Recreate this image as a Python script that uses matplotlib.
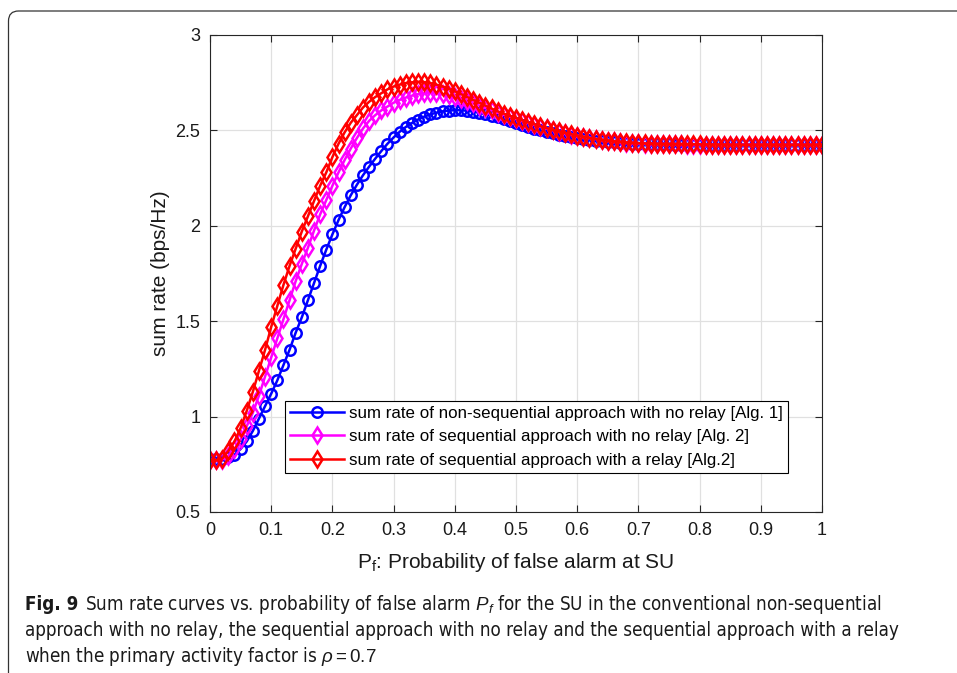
import numpy as np
import matplotlib.pyplot as plt
from matplotlib import font_manager
from matplotlib.font_manager import FontProperties
from matplotlib.patches import FancyBboxPatch
from matplotlib.transforms import IdentityTransform

# probability of false alarm, 0:0.01:1
pf = np.linspace(0, 1, 101)

# sum rate, non-sequential, no relay [Alg. 1]
rate_nonseq = [
    0.78, 0.78, 0.78, 0.79, 0.80, 0.83, 0.87, 0.925, 0.99, 1.055,
    1.12, 1.19, 1.27, 1.35, 1.44, 1.52, 1.61, 1.70, 1.79, 1.875,
    1.955, 2.03, 2.098, 2.16, 2.215, 2.265, 2.31, 2.352, 2.392, 2.43,
    2.463, 2.493, 2.518, 2.539, 2.557, 2.572, 2.584, 2.593, 2.60, 2.604,
    2.606, 2.606, 2.603, 2.598, 2.592, 2.585, 2.577, 2.568, 2.558, 2.548,
    2.538, 2.528, 2.518, 2.509, 2.50, 2.492, 2.484, 2.477, 2.47, 2.464,
    2.459, 2.454, 2.45, 2.446, 2.443, 2.44, 2.437, 2.435, 2.433, 2.431,
    2.43, 2.429, 2.428, 2.428, 2.427, 2.427, 2.426, 2.426, 2.426, 2.425,
    2.425, 2.425, 2.425, 2.425, 2.425, 2.425, 2.425, 2.425, 2.425, 2.425,
    2.425, 2.425, 2.425, 2.425, 2.425, 2.425, 2.425, 2.425, 2.425, 2.425,
    2.425]

# sum rate, sequential, no relay [Alg. 2]
rate_seq = [
    0.77, 0.77, 0.775, 0.795, 0.83, 0.88, 0.95, 1.02, 1.11, 1.21,
    1.31, 1.41, 1.51, 1.61, 1.71, 1.80, 1.885, 1.975, 2.06, 2.135,
    2.21, 2.28, 2.345, 2.405, 2.46, 2.51, 2.55, 2.58, 2.605, 2.625,
    2.645, 2.66, 2.672, 2.682, 2.69, 2.695, 2.697, 2.695, 2.69, 2.683,
    2.674, 2.664, 2.653, 2.641, 2.629, 2.617, 2.605, 2.593, 2.582, 2.571,
    2.56, 2.549, 2.539, 2.529, 2.519, 2.51, 2.501, 2.493, 2.485, 2.478,
    2.471, 2.465, 2.46, 2.455, 2.45, 2.446, 2.442, 2.439, 2.436, 2.434,
    2.432, 2.431, 2.43, 2.429, 2.428, 2.428, 2.427, 2.427, 2.426, 2.426,
    2.426, 2.425, 2.425, 2.425, 2.425, 2.425, 2.425, 2.425, 2.425, 2.425,
    2.425, 2.425, 2.425, 2.425, 2.425, 2.425, 2.425, 2.425, 2.425, 2.425,
    2.425]

# sum rate, sequential, with a relay [Alg. 2]
rate_relay = [
    0.77, 0.77, 0.78, 0.82, 0.87, 0.94, 1.03, 1.13, 1.24, 1.35,
    1.47, 1.58, 1.69, 1.79, 1.88, 1.97, 2.05, 2.13, 2.21, 2.28,
    2.36, 2.43, 2.49, 2.54, 2.58, 2.62, 2.65, 2.675, 2.695, 2.715,
    2.73, 2.74, 2.748, 2.752, 2.755, 2.753, 2.748, 2.74, 2.73, 2.718,
    2.705, 2.69, 2.675, 2.66, 2.645, 2.63, 2.615, 2.60, 2.588, 2.576,
    2.565, 2.553, 2.542, 2.532, 2.522, 2.512, 2.503, 2.495, 2.487, 2.48,
    2.473, 2.467, 2.461, 2.456, 2.451, 2.447, 2.443, 2.44, 2.437, 2.435,
    2.433, 2.432, 2.431, 2.43, 2.429, 2.429, 2.428, 2.428, 2.427, 2.427,
    2.427, 2.426, 2.426, 2.426, 2.426, 2.425, 2.425, 2.425, 2.425, 2.425,
    2.425, 2.425, 2.425, 2.425, 2.425, 2.425, 2.425, 2.425, 2.425, 2.425,
    2.425]

labels = ['sum rate of non-sequential approach with no relay [Alg. 1]',
          'sum rate of sequential approach with no relay [Alg. 2]',
          'sum rate of sequential approach with a relay [Alg.2]']
xticks = [0, 0.1, 0.2, 0.3, 0.4, 0.5, 0.6, 0.7, 0.8, 0.9, 1]
xticklabels = ['0', '0.1', '0.2', '0.3', '0.4', '0.5', '0.6', '0.7', '0.8', '0.9', '1']
yticks = [0.5, 1, 1.5, 2, 2.5, 3]
yticklabels = ['0.5', '1', '1.5', '2', '2.5', '3']

caption_bold = 'Fig. 9'
caption_lines = [
    r'Sum rate curves vs. probability of false alarm $P_f$ for the SU in the conventional non-sequential',
    'approach with no relay, the sequential approach with no relay and the sequential approach with a relay',
    r'when the primary activity factor is $\rho = 0.7$']

plt.rcParams['font.family'] = ['Liberation Sans', 'DejaVu Sans']
plt.rcParams['mathtext.fontset'] = 'custom'
plt.rcParams['mathtext.rm'] = 'Liberation Sans'
plt.rcParams['mathtext.it'] = 'Liberation Sans:italic'

W, H = 957, 673
fig = plt.figure(figsize=(W / 100, H / 100), dpi=100)
ax = fig.add_axes([210 / W, 1 - 512 / H, 612 / W, 477 / H])

ax.plot(pf, rate_nonseq, '-o', color='blue', lw=1.8, ms=7.5, mew=1.8,
        mfc='none', label=labels[0])
ax.plot(pf, rate_seq, '-d', color='magenta', lw=1.8, ms=8.5, mew=1.8,
        mfc='none', label=labels[1])
ax.plot(pf, rate_relay, '-d', color='red', lw=1.8, ms=8.5, mew=1.8,
        mfc='none', label=labels[2])

ax.set_xlim(0, 1)
ax.set_ylim(0.5, 3)
ax.set_xticks(xticks, xticklabels)
ax.set_yticks(yticks, yticklabels)
ax.tick_params(direction='in', top=True, right=True, length=5, width=0.8,
               color='0.15', labelcolor='0.1', labelsize=13, pad=7)
ax.grid(True, color='0.88', lw=0.9)
ax.set_axisbelow(True)
for s in ax.spines.values():
    s.set_color('0.15')
    s.set_linewidth(0.8)

ax.set_xlabel(r'$\mathrm{P_f}$: Probability of false alarm at SU', fontsize=15,
              color='0.1', labelpad=9)
ax.set_ylabel('sum rate (bps/Hz)', fontsize=15, color='0.1', labelpad=4)

leg = ax.legend(loc='lower left', bbox_to_anchor=(0.1225, 0.082), fontsize=12.2,
                handlelength=3.2, handletextpad=0.3, labelspacing=0.5,
                borderpad=0.3, borderaxespad=0, fancybox=False,
                edgecolor='black', framealpha=1)
leg.get_frame().set_linewidth(0.8)

# panel border
frame = FancyBboxPatch((8.5, -30), 1100, H - 11 + 30,
                       boxstyle='round,pad=0,rounding_size=10',
                       transform=IdentityTransform(), fill=False,
                       edgecolor='0.2', lw=0.9)
fig.add_artist(frame)

# caption, preferring a condensed face (regular + bold of the same family)
def is_condensed(f):
    nm = f.name.lower()
    return 'narrow' in nm or 'condensed' in nm or f.stretch == 'condensed'

cap_reg = FontProperties(family='Liberation Sans')
cap_bold = FontProperties(family='Liberation Sans', weight='bold')
cands = [f for f in font_manager.fontManager.ttflist
         if is_condensed(f) and f.style == 'normal']
regs = [f for f in cands if f.weight in (400, 'normal', 'regular')]
if regs:
    fam = regs[0].name
    cap_reg = FontProperties(fname=regs[0].fname)
    bolds = [f for f in cands if f.name == fam and f.weight in (700, 'bold')]
    if bolds:
        cap_bold = FontProperties(fname=bolds[0].fname)
    else:
        cap_bold = FontProperties(fname=regs[0].fname, weight='bold')

r = fig.canvas.get_renderer()
probe = fig.text(0, 0, caption_lines[1], fontproperties=cap_reg, fontsize=12)
w12 = probe.get_window_extent(r).width
probe.remove()
cap_size = 12 * 875 / w12

x0 = 25 / W
bold = fig.text(x0, 1 - 610 / H, caption_bold, fontproperties=cap_bold,
                fontsize=cap_size, color='0.1')
bx = bold.get_window_extent(r).x1
fig.text((bx + 7) / W, 1 - 610 / H, caption_lines[0], fontproperties=cap_reg,
         fontsize=cap_size, color='0.1')
fig.text(x0, 1 - 636 / H, caption_lines[1], fontproperties=cap_reg,
         fontsize=cap_size, color='0.1')
fig.text(x0, 1 - 662 / H, caption_lines[2], fontproperties=cap_reg,
         fontsize=cap_size, color='0.1')

fig.savefig('out.png', dpi=100)
